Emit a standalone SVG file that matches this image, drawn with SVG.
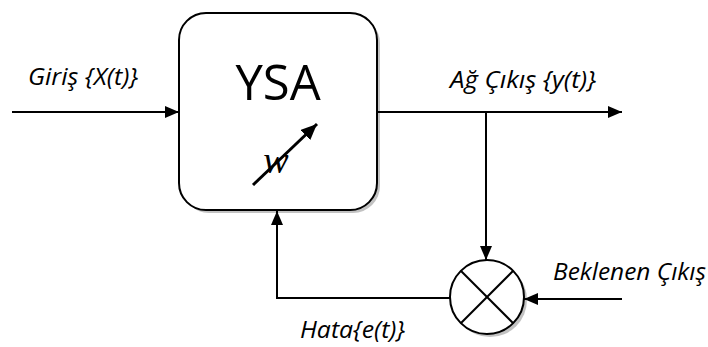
<svg xmlns="http://www.w3.org/2000/svg" width="708" height="347" viewBox="0 0 708 347">
  <style>
    .wire { fill: none; stroke: #000; stroke-width: 2; }
    .lbl { font-family: "Open Sans", "Liberation Sans", sans-serif; font-style: italic; font-size: 23px; fill: #000; }
    .shadow { fill: #9a9a9a; opacity: 0.6; }
  </style>
  <defs>
    <marker id="arr" viewBox="0 0 14 12" refX="14" refY="6" markerWidth="14" markerHeight="12" markerUnits="userSpaceOnUse" orient="auto">
      <path d="M0,0 L14,6 L0,12 Z" fill="#000"/>
    </marker>
    <marker id="arrBig" viewBox="0 0 16 14" refX="16" refY="7" markerWidth="16" markerHeight="14" markerUnits="userSpaceOnUse" orient="auto">
      <path d="M0,0 L16,7 L0,14 Z" fill="#000"/>
    </marker>
  </defs>

  <!-- neural network block -->
  <g id="ysa">
    <rect class="shadow" x="182" y="16" width="198" height="197" rx="27"/>
    <rect x="179" y="13" width="198" height="197" rx="27" fill="#fff" stroke="#000" stroke-width="2"/>
    <text x="278" y="100" text-anchor="middle" font-family="Open Sans, Liberation Sans, sans-serif" font-size="49">YSA</text>
    <text x="276" y="173" text-anchor="middle" font-family="Liberation Serif, serif" font-style="italic" font-size="38">w</text>
    <line x1="253" y1="185" x2="317" y2="124" stroke="#000" stroke-width="3" marker-end="url(#arrBig)"/>
  </g>

  <!-- comparator -->
  <g id="comparator">
    <circle class="shadow" cx="490" cy="300" r="37"/>
    <circle cx="487" cy="297" r="37" fill="#fff" stroke="#000" stroke-width="2"/>
    <line x1="460.8" y1="270.8" x2="513.2" y2="323.2" stroke="#000" stroke-width="2"/>
    <line x1="513.2" y1="270.8" x2="460.8" y2="323.2" stroke="#000" stroke-width="2"/>
  </g>

  <!-- connectors -->
  <g id="connectors">
    <line class="wire" x1="12" y1="112" x2="179" y2="112" marker-end="url(#arr)"/>
    <line class="wire" x1="377" y1="112" x2="622" y2="112" marker-end="url(#arr)"/>
    <line class="wire" x1="486" y1="112" x2="486" y2="260" marker-end="url(#arr)"/>
    <line class="wire" x1="622" y1="299" x2="524" y2="299" marker-end="url(#arr)"/>
    <polyline class="wire" points="450,298 277,298 277,211" marker-end="url(#arr)"/>
  </g>

  <!-- labels -->
  <g id="labels">
    <text class="lbl" x="28" y="85" textLength="110" lengthAdjust="spacingAndGlyphs">Giriş {X(t)}</text>
    <text class="lbl" x="450" y="88" textLength="146" lengthAdjust="spacingAndGlyphs">Ağ Çıkış {y(t)}</text>
    <text class="lbl" x="553" y="280" textLength="153" lengthAdjust="spacingAndGlyphs">Beklenen Çıkış</text>
    <text class="lbl" x="300" y="338" textLength="105" lengthAdjust="spacingAndGlyphs">Hata{e(t)}</text>
  </g>
</svg>
